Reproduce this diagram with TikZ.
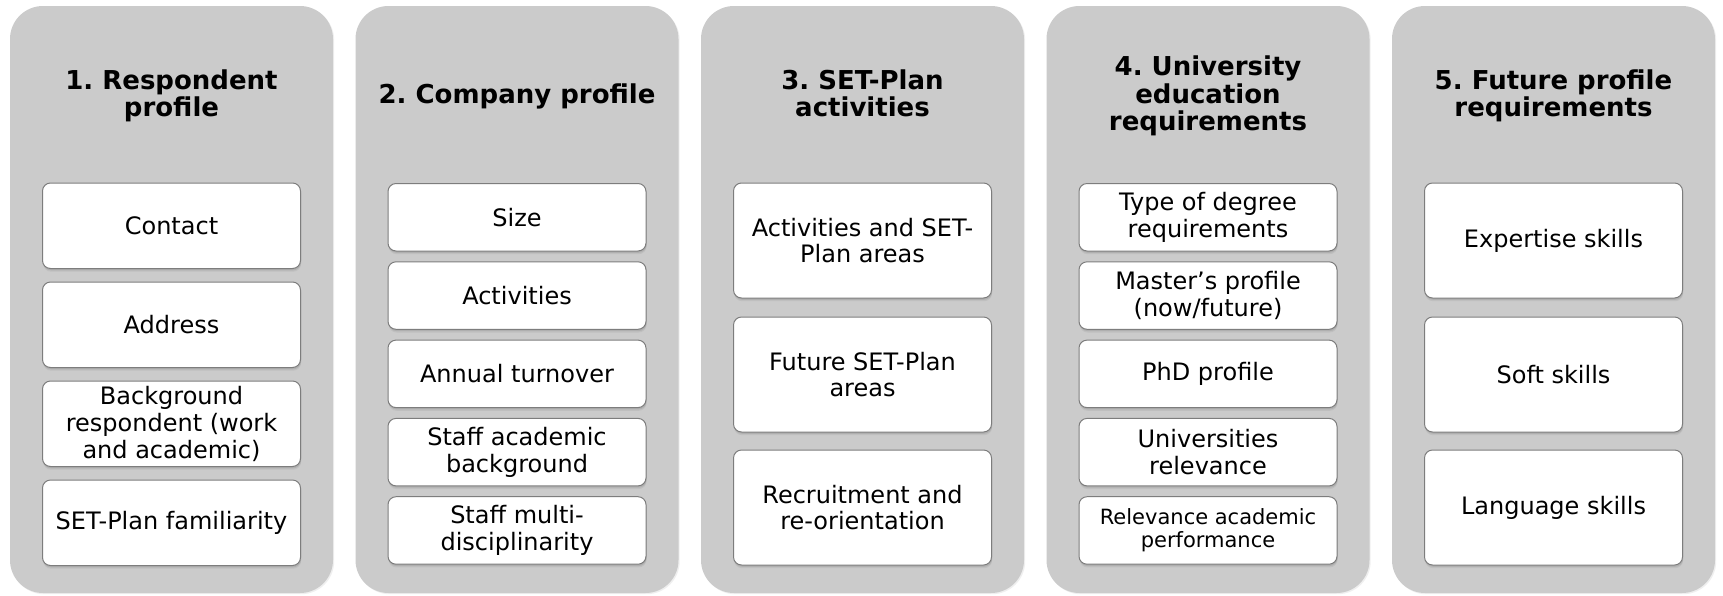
\documentclass[tikz,border=0pt]{standalone}
\usepackage{fontspec}
\setmainfont{DejaVu Sans}
\usetikzlibrary{shadows}
\definecolor{panelgray}{RGB}{203,203,203}
\definecolor{boxedge}{RGB}{125,125,125}
\frenchspacing
\begin{document}
\begin{tikzpicture}[x=0.5pt,y=-0.5pt,
  panel/.style={rounded corners=16.5pt, fill=panelgray, minimum width=161.5pt, minimum height=293.5pt, inner sep=0pt,
    drop shadow={shadow xshift=0.6pt, shadow yshift=-0.6pt, opacity=0.12}},
  title/.style={font=\bfseries\fontsize{13}{13.6}\selectfont, align=center, inner sep=0pt},
  item/.style={rounded corners=4pt, fill=white, draw=boxedge, line width=0.5pt, minimum width=129pt,
    align=center, inner sep=0pt, font=\fontsize{12}{13.4}\selectfont,
    drop shadow={shadow xshift=0.3pt, shadow yshift=-1.6pt, opacity=0.15},
    drop shadow={shadow xshift=0.3pt, shadow yshift=-0.9pt, opacity=0.25}},
  hfour/.style={item, minimum height=42.75pt},
  hfive/.style={item, minimum height=33.75pt},
  hthree/.style={item, minimum height=57.5pt},
]
\fill[white] (0,0) rectangle (1723,595);
\useasboundingbox (0,0) rectangle (1723,595);

% panels
\node[panel] (p1) at (171.5,299.5) {};
\node[panel] (p2) at (517,299.5) {};
\node[panel] (p3) at (862.5,299.5) {};
\node[panel] (p4) at (1208,299.5) {};
\node[panel] (p5) at (1553.5,299.5) {};

% titles
\node[title] (t1) at (171.5,96) {1. Respondent\\profile};
\node[title] (t2) at (517,96) {2. Company profile};
\node[title] (t3) at (862.5,93) {3. SET-Plan\\activities};
\node[title] (t4) at (1208,96) {4. University\\education\\requirements};
\node[title] (t5) at (1553.5,96) {5. Future profile\\requirements};

% column 1
\node[hfour] (a1) at (171.5,225.75) {Contact};
\node[hfour] (a2) at (171.5,324.75) {Address};
\node[hfour] (a3) at (171.5,423.75) {Background\\respondent (work\\and academic)};
\node[hfour] (a4) at (171.5,522.75) {SET-Plan familiarity};

% column 2
\node[hfive] (b1) at (517,217.25) {Size};
\node[hfive] (b2) at (517,295.55) {Activities};
\node[hfive] (b3) at (517,373.85) {Annual turnover};
\node[hfive] (b4) at (517,452.15) {Staff academic\\background};
\node[hfive] (b5) at (517,530.45) {Staff multi-\\disciplinarity};

% column 3
\node[hthree] (c1) at (862.5,240.5) {Activities and SET-\\Plan areas};
\node[hthree] (c2) at (862.5,374.5) {Future SET-Plan\\areas};
\node[hthree] (c3) at (862.5,507.5) {Recruitment and\\re-orientation};

% column 4
\node[hfive] (d1) at (1208,217.25) {Type of degree\\requirements};
\node[hfive] (d2) at (1208,295.55) {Master’s profile\\(now/future)};
\node[hfive] (d3) at (1208,373.85) {PhD profile};
\node[hfive] (d4) at (1208,452.15) {Universities\\relevance};
\node[hfive, font=\fontsize{10.5}{11.7}\selectfont] (d5) at (1208,530.45) {Relevance academic\\performance};

% column 5
\node[hthree] (e1) at (1553.5,240.5) {Expertise skills};
\node[hthree] (e2) at (1553.5,374.5) {Soft skills};
\node[hthree] (e3) at (1553.5,507.5) {Language skills};
\end{tikzpicture}
\end{document}
